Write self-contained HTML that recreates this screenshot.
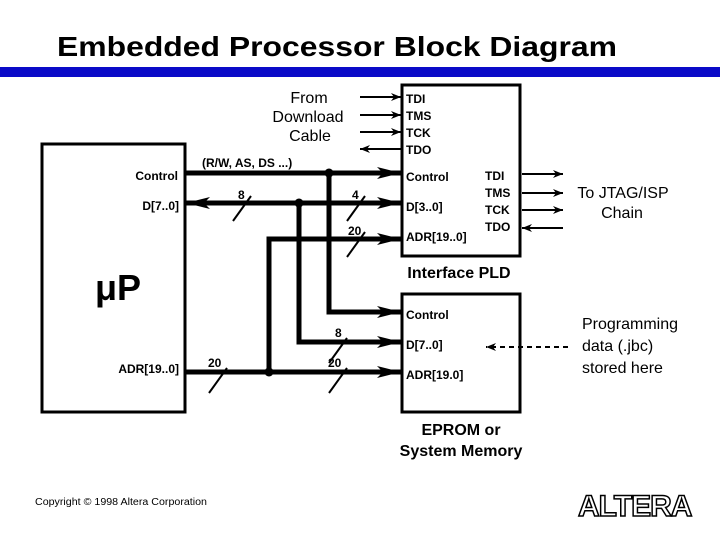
<!DOCTYPE html>
<html><head><meta charset="utf-8"><style>
html,body{margin:0;padding:0;background:#fff}
svg{display:block}
text{font-family:"Liberation Sans",Arial,sans-serif}
</style></head><body>
<svg width="720" height="540" viewBox="0 0 720 540" xmlns="http://www.w3.org/2000/svg">
<defs>
<marker id="a" markerWidth="10" markerHeight="8" refX="10" refY="4" orient="auto" markerUnits="userSpaceOnUse"><path d="M0,0 L10,4 L0,8 L3,4z" fill="#000"/></marker>
<marker id="b" markerWidth="24" markerHeight="12" refX="24" refY="6" orient="auto" markerUnits="userSpaceOnUse"><path d="M0,0 L24,6 L0,12 L6,6z" fill="#000"/></marker>
</defs>
<text x="57" y="56" font-size="28" font-weight="bold" textLength="560" lengthAdjust="spacingAndGlyphs">Embedded Processor Block Diagram</text>
<rect x="0" y="67" width="720" height="10" fill="#0a0ac8"/>
<rect x="42" y="144" width="143" height="268" fill="none" stroke="#000" stroke-width="3"/>
<rect x="402" y="85" width="118" height="171" fill="none" stroke="#000" stroke-width="3"/>
<rect x="402" y="294" width="118" height="118" fill="none" stroke="#000" stroke-width="3"/>
<text x="95" y="300" font-size="36" font-weight="bold">μP</text>
<g font-size="12" font-weight="bold">
<text x="178" y="180" text-anchor="end">Control</text>
<text x="179" y="210" text-anchor="end">D[7..0]</text>
<text x="179" y="373" text-anchor="end">ADR[19..0]</text>
<text x="406" y="103">TDI</text><text x="406" y="120">TMS</text><text x="406" y="137">TCK</text><text x="406" y="154">TDO</text>
<text x="406" y="181">Control</text><text x="406" y="211">D[3..0]</text><text x="406" y="241">ADR[19..0]</text>
<text x="485" y="180">TDI</text><text x="485" y="197">TMS</text><text x="485" y="214">TCK</text><text x="485" y="231">TDO</text>
<text x="406" y="319">Control</text><text x="406" y="349">D[7..0]</text><text x="406" y="379">ADR[19.0]</text>
<text x="202" y="167">(R/W, AS, DS ...)</text>
<text x="238" y="199">8</text><text x="352" y="199">4</text><text x="348" y="235">20</text>
<text x="335" y="337">8</text><text x="208" y="367">20</text><text x="328" y="367">20</text>
</g>
<g font-size="16" text-anchor="middle">
<text x="309" y="103">From</text><text x="308" y="122">Download</text><text x="310" y="141">Cable</text>
<text x="623" y="198">To JTAG/ISP</text><text x="622" y="218">Chain</text>
</g>
<g font-size="16">
<text x="582" y="329">Programming</text><text x="582" y="351">data (.jbc)</text><text x="582" y="373">stored here</text>
</g>
<g font-size="16" font-weight="bold" text-anchor="middle">
<text x="459" y="278">Interface PLD</text>
<text x="461" y="435">EPROM or</text><text x="461" y="456">System Memory</text>
</g>
<text x="35" y="505" font-size="10" textLength="172" lengthAdjust="spacingAndGlyphs">Copyright © 1998 Altera Corporation</text>
<text x="578" y="516" font-size="30" font-weight="bold" fill="#fff" stroke="#000" stroke-width="1.5" letter-spacing="-1">ALTERA</text>
<g stroke="#000" stroke-width="2" fill="none">
<line x1="360" y1="97" x2="401" y2="97" marker-end="url(#a)"/>
<line x1="360" y1="115" x2="401" y2="115" marker-end="url(#a)"/>
<line x1="360" y1="132" x2="401" y2="132" marker-end="url(#a)"/>
<line x1="401" y1="149" x2="360" y2="149" marker-end="url(#a)"/>
<line x1="522" y1="174" x2="563" y2="174" marker-end="url(#a)"/>
<line x1="522" y1="193" x2="563" y2="193" marker-end="url(#a)"/>
<line x1="522" y1="210" x2="563" y2="210" marker-end="url(#a)"/>
<line x1="563" y1="228" x2="522" y2="228" marker-end="url(#a)"/>
<line x1="568" y1="347" x2="486" y2="347" stroke-dasharray="5,4" marker-end="url(#a)"/>
</g>
<g stroke="#000" stroke-width="5" fill="none">
<line x1="186" y1="173" x2="401" y2="173" marker-end="url(#b)"/>
<line x1="190" y1="203" x2="401" y2="203" marker-end="url(#b)"/>
<line x1="260" y1="203" x2="186" y2="203" marker-end="url(#b)"/>
<polyline points="329,173 329,312 401,312" marker-end="url(#b)"/>
<polyline points="299,203 299,342 401,342" marker-end="url(#b)"/>
<polyline points="269,372 269,239 401,239" marker-end="url(#b)"/>
<line x1="186" y1="372" x2="401" y2="372" marker-end="url(#b)"/>
</g>
<g fill="#000">
<circle cx="329" cy="173" r="4.5"/><circle cx="299" cy="203" r="4.5"/><circle cx="269" cy="372" r="4.5"/>
</g>
<g stroke="#000" stroke-width="2">
<line x1="233" y1="221" x2="251" y2="196"/><line x1="347" y1="221" x2="365" y2="196"/>
<line x1="347" y1="257" x2="365" y2="232"/><line x1="329" y1="363" x2="347" y2="338"/>
<line x1="209" y1="393" x2="227" y2="368"/><line x1="329" y1="393" x2="347" y2="368"/>
</g>
</svg>
</body></html>
